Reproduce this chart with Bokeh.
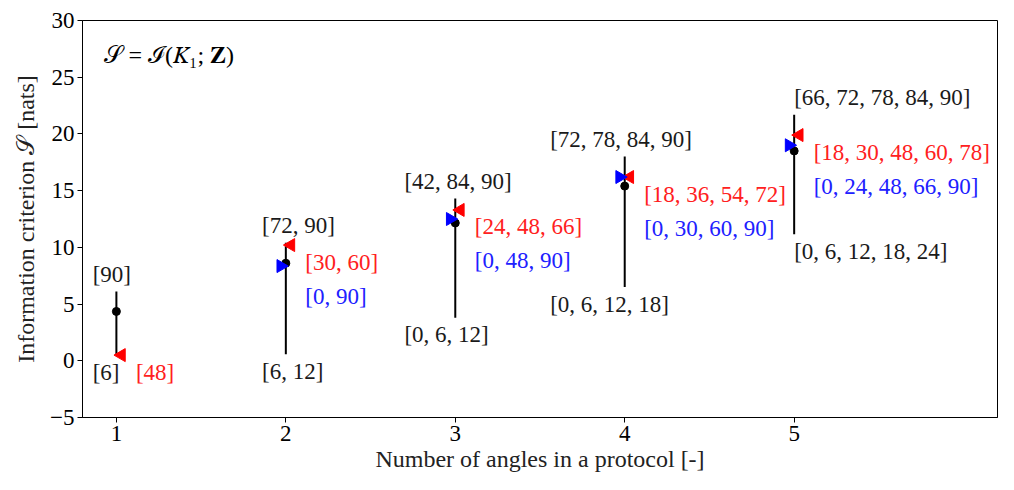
import numpy as np
from bokeh.plotting import figure
from bokeh.models import ColumnDataSource, Range1d, FixedTicker, Label
from bokeh.core.properties import value
from bokeh.embed import file_html
from bokeh.resources import INLINE

# ---- data ----
n_angles = [1, 2, 3, 4, 5]
s_mean = [4.35, 8.6, 12.15, 15.4, 18.5]
s_max = [6.1, 10.4, 14.3, 18.0, 21.7]
s_min = [0.5, 0.57, 3.8, 6.5, 11.15]
s_red = [0.5, 10.2, 13.3, 16.2, 19.9]
s_blue = [np.nan, 8.35, 12.5, 16.2, 19.0]
labels_max = ["[90]", "[72, 90]", "[42, 84, 90]", "[72, 78, 84, 90]", "[66, 72, 78, 84, 90]"]
labels_min = ["[6]", "[6, 12]", "[0, 6, 12]", "[0, 6, 12, 18]", "[0, 6, 12, 18, 24]"]
labels_red = ["[48]", "[30, 60]", "[24, 48, 66]", "[18, 36, 54, 72]", "[18, 30, 48, 60, 78]"]
labels_blue = ["", "[0, 90]", "[0, 48, 90]", "[0, 30, 60, 90]", "[0, 24, 48, 66, 90]"]
y_ticks = [-5, 0, 5, 10, 15, 20, 25, 30]
x_ticks = [1, 2, 3, 4, 5]

# ---- layout helpers (not data) ----
label_dx = [-0.14, -0.14, -0.30, -0.44, 0.0]
FONT = "Liberation Serif"
FS = "23px"

x = np.array(n_angles, dtype=float)
src = ColumnDataSource(dict(
    x=x, mean=s_mean, top=s_max, bot=s_min,
    red=s_red, blue=s_blue,
    xr=x + 0.03, xb=x - 0.03,
    xl=x + np.array(label_dx),
    ytop=np.array(s_max) + 1.5, ybot=np.array(s_min) - 1.5,
    xlab=x + 0.115,
    yred=np.array(s_red) - 1.5, yblue=np.array(s_red) - 4.5,
    lmax=labels_max, lmin=labels_min, lred=labels_red, lblue=labels_blue,
))

p = figure(width=998, height=474, output_backend="svg", toolbar_location=None,
           x_range=Range1d(0.8, 6.2), y_range=Range1d(-5, 30),
           min_border_left=82, min_border_right=1, min_border_top=20, min_border_bottom=56)
p.grid.visible = False
p.outline_line_color = "black"
p.outline_line_width = 1
p.background_fill_color = "white"
p.border_fill_color = "white"

for ax in (p.xaxis[0], p.yaxis[0]):
    ax.axis_line_color = "black"
    ax.major_tick_line_color = "black"
    ax.major_tick_out = 5
    ax.major_tick_in = 0
    ax.minor_tick_line_color = None
    ax.major_label_text_font = FONT
    ax.major_label_text_font_size = "23px"
    ax.major_label_text_color = "black"
    ax.major_label_standoff = 3
    ax.axis_label_text_font = FONT
    ax.axis_label_text_font_size = "24px"
    ax.axis_label_text_font_style = "normal"
    ax.axis_label_text_color = "#222222"

p.xaxis.ticker = FixedTicker(ticks=x_ticks)
p.yaxis.ticker = FixedTicker(ticks=y_ticks)
p.yaxis.major_label_overrides = {t: (f"\u2212{abs(t)}" if t < 0 else str(t)) for t in y_ticks}
p.xaxis.axis_label = "Number of angles in a protocol [-]"
p.yaxis.axis_label = "Information criterion \U0001D4AE [nats]"
p.xaxis.axis_label_standoff = 2
p.yaxis.axis_label_standoff = 8

p.segment(x0="x", y0="bot", x1="x", y1="top", source=src, line_color="black", line_width=2)
p.scatter(x="x", y="mean", source=src, size=8, marker="circle", color="black")
p.scatter(x="xr", y="red", source=src, size=13, marker="triangle", angle=np.pi / 2,
          fill_color="red", line_color="red")
p.scatter(x="xb", y="blue", source=src, size=13, marker="triangle", angle=-np.pi / 2,
          fill_color="blue", line_color="blue")

common = dict(source=src, text_font=value(FONT), text_font_size=FS,
              text_baseline="middle", text_align="left")
p.text(x="xl", y="ytop", text="lmax", text_color="#1a1a1a", **common)
p.text(x="xl", y="ybot", text="lmin", text_color="#1a1a1a", **common)
p.text(x="xlab", y="yred", text="lred", text_color="#ff2020", **common)
p.text(x="xlab", y="yblue", text="lblue", text_color="#2020ff", **common)

p.add_layout(Label(x=0.924, y=27.0, text="\U0001D4AE = \u2110(\U0001D43E\u2081; \U0001D419)",
                   text_font=FONT, text_font_size="24px", text_baseline="middle",
                   text_color="black"))

open("out.html", "w").write(file_html(p, INLINE))
